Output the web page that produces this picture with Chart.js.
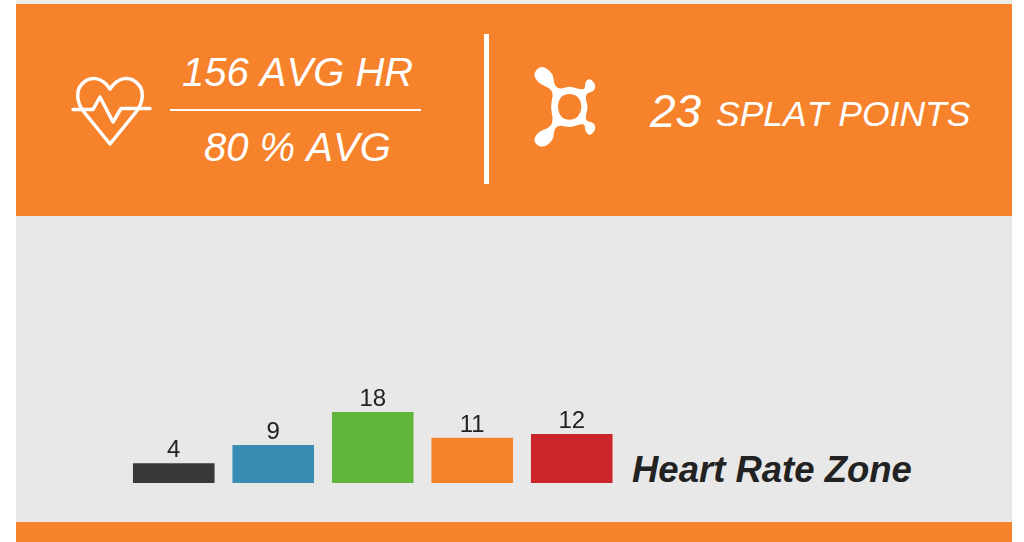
<!DOCTYPE html>
<html>
<head>
<meta charset="utf-8">
<script src="https://cdn.jsdelivr.net/npm/chart.js@4"></script>
<style>
  html, body { margin: 0; padding: 0; background: #fff; }
  body { width: 1024px; height: 542px; overflow: hidden; position: relative; font-family: "Liberation Sans", sans-serif; }
  .box { position: absolute; }
  .txt { position: absolute; color: #fff; font-style: italic; white-space: nowrap; line-height: 1; font-kerning: none; }
</style>
</head>
<body>
<div class="box" style="left:16px;top:0;width:996px;height:4px;background:#eeeceb"></div>
<div class="box" style="left:16px;top:4px;width:996px;height:212px;background:#f6822b"></div>
<div class="box" style="left:16px;top:216px;width:996px;height:306px;background:#e8e8e8"></div>
<div class="box" style="left:16px;top:522px;width:996px;height:20px;background:#f6822b"></div>

<div class="txt" style="left:182px;top:52px;font-size:40px">156 AVG HR</div>
<div class="box" style="left:170px;top:109px;width:251px;height:2px;background:#fff"></div>
<div class="txt" style="left:204px;top:127px;font-size:40px">80 % AVG</div>
<div class="box" style="left:484px;top:34px;width:5px;height:150px;background:#fff"></div>
<div class="txt" style="left:650px;top:88px;font-size:46px">23</div>
<div class="txt" style="left:716px;top:97px;font-size:35.5px">SPLAT POINTS</div>
<div class="txt" style="left:632px;top:452px;font-size:36.5px;font-weight:bold;color:#222">Heart Rate Zone</div>

<svg class="box" style="left:0;top:0" width="1024" height="216" fill="none" stroke="#fff" stroke-linejoin="round" stroke-linecap="round">
  <!-- heart -->
  <path stroke-width="3.5" d="M110 144 L84 112 C76 102 76 90 82 84 C90 75 102 77 110 89 C118 77 130 75 138 84 C144 90 144 102 136 112 Z"/>
  <path stroke-width="3.5" d="M73 109.5 H93 L100 97 L113 122 L121 108.5 H150"/>
  <!-- splat -->
  <path id="splat" fill="#fff" stroke="none" fill-rule="evenodd" transform="translate(470 20) scale(0.3333)"/>
</svg>

<canvas id="myChart" class="box" style="left:16px;top:216px" width="996" height="306"></canvas>

<script>
const zones = ["Zone 1", "Zone 2", "Zone 3", "Zone 4", "Zone 5"];
const minutes = [4, 9, 18, 11, 12];
const barColors = ["#383838", "#3a8bb4", "#62b53b", "#f6822b", "#ca252b"];

// the bars don't start at zero in the original, so the axis starts a bit under it
const axisBottom = -1.35;

// outline of the splat logo, smoothed through the midpoints
const splatOutline = [[188,160],[215,135],[250,160],[252,195],[270,208],[298,198],[330,208],[345,208],[345,185],[360,174],[378,195],[372,214],[350,220],[346,235],[355,260],[346,290],[350,304],[372,308],[378,328],[360,348],[345,335],[345,314],[330,312],[298,324],[268,314],[252,328],[250,362],[215,386],[188,362],[205,335],[240,322],[250,300],[241,260],[250,222],[240,205],[205,190]];
const splatHole = [[298,220],[325,228],[337,260],[325,292],[298,302],[272,292],[261,260],[272,228]];

function smoothPath(pts) {
  const mid = (a, b) => [(a[0] + b[0]) / 2, (a[1] + b[1]) / 2];
  let start = mid(pts[pts.length - 1], pts[0]);
  let d = "M" + start.join(" ");
  pts.forEach((p, i) => {
    const m = mid(p, pts[(i + 1) % pts.length]);
    d += " Q" + p.join(" ") + " " + m.join(" ");
  });
  return d + " Z";
}
document.getElementById("splat").setAttribute("d", smoothPath(splatOutline) + " " + smoothPath(splatHole));

const valueLabels = {
  id: "valueLabels",
  afterDatasetsDraw(chart) {
    const ctx = chart.ctx;
    ctx.save();
    ctx.font = '24px "Liberation Sans"';
    ctx.fillStyle = "#222";
    ctx.textAlign = "center";
    ctx.textBaseline = "alphabetic";
    chart.getDatasetMeta(0).data.forEach((bar, i) => {
      ctx.fillText(minutes[i], bar.x, bar.y - 6);
    });
    ctx.restore();
  }
};

new Chart(document.getElementById("myChart"), {
  type: "bar",
  data: {
    labels: zones,
    datasets: [{
      data: minutes,
      base: axisBottom,
      backgroundColor: barColors,
      borderWidth: 0,
      barPercentage: 0.82,
      categoryPercentage: 1
    }]
  },
  options: {
    responsive: false,
    animation: false,
    layout: { padding: { left: 108, right: 390.5, top: 5, bottom: 39 } },
    plugins: { legend: { display: false }, tooltip: { enabled: false } },
    scales: {
      x: { display: false },
      y: { display: false, min: axisBottom, max: 70 }
    }
  },
  plugins: [valueLabels]
});
</script>
</body>
</html>
